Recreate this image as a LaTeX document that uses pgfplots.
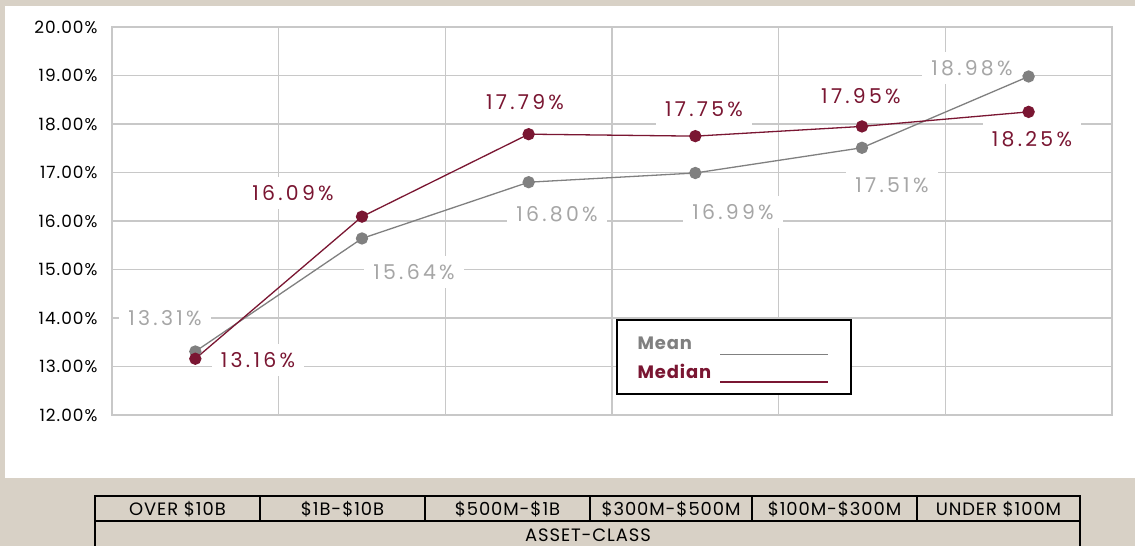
\documentclass[border=0pt]{standalone}
\usepackage{pgfplots}
\pgfplotsset{compat=1.18}
\usepackage{fontspec}
\setmainfont{Poppins}
\newfontfamily\tickfont[LetterSpace=6]{Poppins}
\newfontfamily\labfont[LetterSpace=16]{Poppins}
\newfontfamily\tabfont[LetterSpace=5]{Poppins}
\newfontfamily\legfont[LetterSpace=5]{Poppins}
\definecolor{beige}{RGB}{216,209,198}
\definecolor{gridgray}{RGB}{200,200,200}
\definecolor{meangray}{RGB}{128,128,128}
\definecolor{meantext}{RGB}{166,166,166}
\definecolor{medred}{RGB}{122,22,50}

\pgfplotstableread{
x y
0.5 13.31
1.5 15.64
2.5 16.80
3.5 16.99
4.5 17.51
5.5 18.98
}\meandata
\pgfplotstableread{
x y
0.5 13.16
1.5 16.09
2.5 17.79
3.5 17.75
4.5 17.95
5.5 18.25
}\mediandata

\begin{document}
\begin{tikzpicture}
\useasboundingbox (0,0) rectangle (1135bp,-546bp);
\fill[beige] (0,0) rectangle (1135bp,-546bp);
\fill[white] (5bp,-6bp) rectangle (1135bp,-478bp);
\begin{axis}[
 at={(112bp,-415bp)}, anchor=south west,
 scale only axis, width=1000bp, height=388bp,
 xmin=0, xmax=6, ymin=12, ymax=20,
 xtick={0,...,6}, xticklabels={},
 ytick={12,...,20},
 grid=major, grid style={gridgray, line width=1.5bp},
 axis line style={gridgray, line width=1.5bp},
 tick style={draw=none},
 /pgf/number format/assume math mode=true,
 yticklabel={\pgfmathprintnumber[fixed,fixed zerofill,precision=2]{\tick}\%},
 yticklabel style={font=\tickfont\fontsize{17}{17}\selectfont, text=black, xshift=-11bp},
 clip=false,
]
\tikzset{mlab/.style={fill=white, inner xsep=9bp, inner ysep=8bp, text=meantext, font=\labfont\fontsize{20.5}{20.5}\selectfont},
         dlab/.style={fill=white, inner xsep=9bp, inner ysep=8bp, text=medred, font=\labfont\fontsize{20.5}{20.5}\selectfont}}
\node[mlab] at (axis cs:0.318,14.0) {13.31\%};
\node[dlab] at (axis cs:0.876,13.134) {13.16\%};
\node[dlab] at (axis cs:1.086,16.577) {16.09\%};
\node[mlab] at (axis cs:1.812,14.948) {15.64\%};
\node[dlab] at (axis cs:2.478,18.454) {17.79\%};
\node[mlab] at (axis cs:2.670,16.144) {16.80\%};
\node[dlab] at (axis cs:3.552,18.309) {17.75\%};
\node[mlab] at (axis cs:3.726,16.186) {16.99\%};
\node[dlab] at (axis cs:4.494,18.577) {17.95\%};
\node[mlab] at (axis cs:4.68,16.742) {17.51\%};
\node[mlab] at (axis cs:5.16,19.155) {18.98\%};
\node[dlab] at (axis cs:5.52,17.691) {18.25\%};
\addplot[meangray, line width=1.3bp, mark=*, mark size=5.5bp, mark options={fill=meangray, draw=meangray}] table[x=x,y=y] {\meandata};
\addplot[medred, line width=1.3bp, mark=*, mark size=5.5bp, mark options={fill=medred, draw=medred}] table[x=x,y=y] {\mediandata};
\end{axis}
\begin{scope}[x=1bp, y=-1bp]
% legend box
\draw[black, line width=1.8bp, fill=white] (617,320) rectangle (851,394);
\node[anchor=west, text=meangray, font=\legfont\fontsize{18}{18}\selectfont\bfseries] at (634,343) {Mean};
\draw[meangray, line width=1bp] (720,354) -- (828,354);
\node[anchor=west, text=medred, font=\legfont\fontsize{18}{18}\selectfont\bfseries] at (634,371) {Median};
\draw[medred, line width=1.2bp] (720,382) -- (828,382);
% category table
\draw[black, line width=1.8bp] (95,496) rectangle (1080,560);
\draw[black, line width=1.8bp] (95,521) -- (1080,521);
\foreach \xx in {260,425,590,752,917} \draw[black, line width=1.8bp] (\xx,496) -- (\xx,521);
\foreach \cx/\lab in {177.5/OVER \$10B, 342.5/\$1B-\$10B, 507.5/\$500M-\$1B, 671/\$300M-\$500M, 834.5/\$100M-\$300M, 998.5/UNDER \$100M}
  \node[font=\tabfont\fontsize{18}{18}\selectfont, text=black] at (\cx,509) {\lab};
\node[font=\tabfont\fontsize{18}{18}\selectfont, text=black] at (588,535) {ASSET-CLASS};
\end{scope}
\end{tikzpicture}
\end{document}
